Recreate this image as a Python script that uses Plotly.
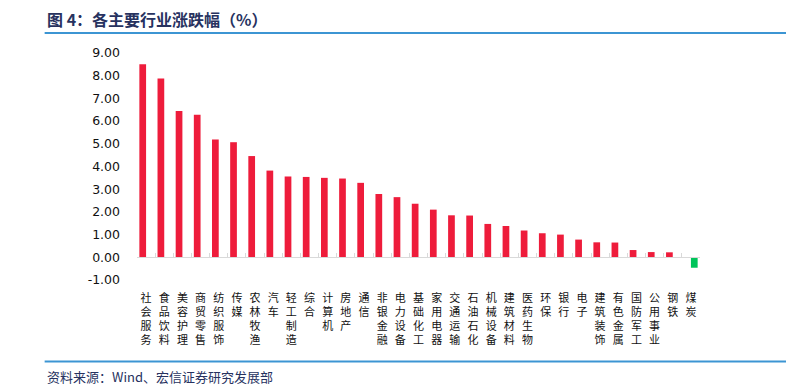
import plotly.graph_objects as go

categories = ["社会服务", "食品饮料", "美容护理", "商贸零售", "纺织服饰", "传媒", "农林牧渔", "汽车",
              "轻工制造", "综合", "计算机", "房地产", "通信", "非银金融", "电力设备", "基础化工",
              "家用电器", "交通运输", "石油石化", "机械设备", "建筑材料", "医药生物", "环保", "银行",
              "电子", "建筑装饰", "有色金属", "国防军工", "公用事业", "钢铁", "煤炭"]
values = [8.50, 7.88, 6.44, 6.28, 5.19, 5.07, 4.46, 3.82, 3.56, 3.54, 3.50, 3.47, 3.28, 2.79, 2.65, 2.36,
          2.10, 1.85, 1.84, 1.47, 1.38, 1.18, 1.06, 1.00, 0.78, 0.66, 0.65, 0.32, 0.23, 0.22, -0.46]
y_ticks = [-1, 0, 1, 2, 3, 4, 5, 6, 7, 8, 9]
y_tick_labels = ["-1.00", "0.00", "1.00", "2.00", "3.00", "4.00", "5.00", "6.00", "7.00", "8.00", "9.00"]

title_text = "图 4：各主要行业涨跌幅（%）"
source_text = "资料来源：Wind、宏信证券研究发展部"

pos_vals = [v if v >= 0 else None for v in values]
neg_vals = [v if v < 0 else None for v in values]
x_labels = ["<br>".join(list(c)) for c in categories]

W, H = 786, 391
L, R, T, B = 137.3, 86, 53, 111.3
plot_h = H - T - B
plot_w = W - L - R
ymin, ymax = -1, 9
zero_frac = (0 - ymin) / (ymax - ymin)

def px_to_paper_x(px):
    return (px - L) / plot_w

def px_to_paper_y(py):
    return (H - B - py) / plot_h

fig = go.Figure()
fig.add_trace(go.Bar(x=x_labels, y=pos_vals, marker=dict(color="#EE1C3B", line=dict(width=0)),
                     name="上涨", showlegend=False))
fig.add_trace(go.Bar(x=x_labels, y=neg_vals, marker=dict(color="#00C45A", line=dict(width=0)),
                     name="下跌", showlegend=False))

navy = "#27325F"
rule_color = "#3C95D3"

fig.update_layout(
    width=W, height=H,
    margin=dict(l=L, r=R, t=T, b=B, autoexpand=False),
    paper_bgcolor="white", plot_bgcolor="white",
    barmode="group", bargap=0.26, bargroupgap=0,
    font=dict(family="Noto Sans CJK SC", color="#000000"),
    xaxis=dict(
        type="category", anchor="free", position=zero_frac,
        showline=True, linecolor="#D9D9D9", linewidth=1,
        ticks="inside", ticklen=4, tickcolor="#D9D9D9", tickwidth=1,
        tickson="boundaries", showgrid=False, zeroline=False,
        tickfont=dict(family="Noto Sans CJK SC", size=11, color="#111111"),
        ticklabelstandoff=30, tickangle=0,
    ),
    yaxis=dict(
        range=[ymin, ymax], showgrid=False, zeroline=False, showline=False,
        tickvals=y_ticks, ticktext=y_tick_labels, ticks="",
        tickfont=dict(family="DejaVu Sans", size=12.5, color="#111111"),
        ticklabelstandoff=16,
    ),
    shapes=[
        dict(type="line", xref="paper", yref="paper",
             x0=px_to_paper_x(45), x1=px_to_paper_x(786),
             y0=px_to_paper_y(33), y1=px_to_paper_y(33),
             line=dict(color=rule_color, width=2)),
        dict(type="line", xref="paper", yref="paper",
             x0=px_to_paper_x(45), x1=px_to_paper_x(786),
             y0=px_to_paper_y(361), y1=px_to_paper_y(361),
             line=dict(color=rule_color, width=2)),
    ],
    annotations=[
        dict(text="<b>" + title_text + "</b>", xref="paper", yref="paper",
             x=px_to_paper_x(45), y=px_to_paper_y(19), xanchor="left", yanchor="middle",
             showarrow=False, font=dict(family="Noto Sans CJK SC", size=16, color=navy)),
        dict(text=source_text, xref="paper", yref="paper",
             x=px_to_paper_x(45), y=px_to_paper_y(376), xanchor="left", yanchor="middle",
             showarrow=False, font=dict(family="Noto Sans CJK SC", size=13, color=navy)),
    ],
)

fig.write_html("out.html", config={"displayModeBar": False},
               post_script="document.body.style.margin='0';document.body.style.overflow='hidden';")
